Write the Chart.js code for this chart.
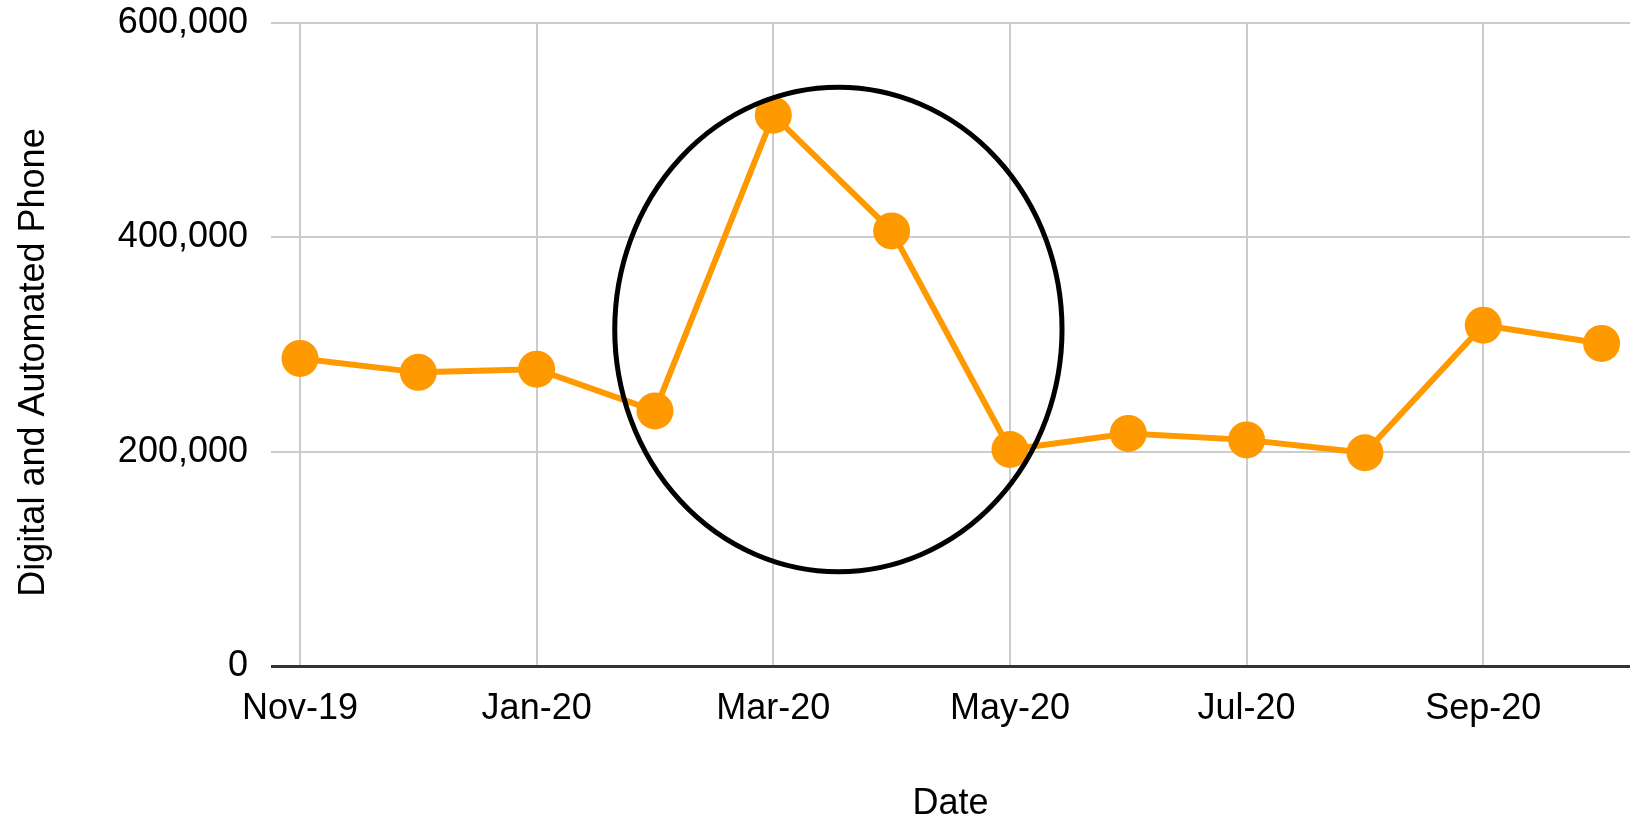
<!DOCTYPE html>
<html>
<head>
<meta charset="utf-8">
<script src="https://cdn.jsdelivr.net/npm/chart.js@4/dist/chart.umd.min.js"></script>
<style>
  html, body { margin: 0; padding: 0; background: #ffffff; overflow: hidden; }
  #wrap { position: relative; width: 1630px; height: 822px; }
  #phone-chart { display: block; }
</style>
</head>
<body>
<div id="wrap"><canvas id="phone-chart"></canvas></div>
<script>
// Months shown on the chart (one point each)
const months = ['Nov-19', 'Dec-19', 'Jan-20', 'Feb-20', 'Mar-20', 'Apr-20',
                'May-20', 'Jun-20', 'Jul-20', 'Aug-20', 'Sep-20', 'Oct-20'];

// Digital and automated phone volume per month
const phoneValues = [287000, 274000, 277000, 238000, 514000, 406000,
                     202000, 217000, 211000, 199000, 318000, 301000];

// Only every other month gets a label and a vertical grid line
const labelledMonths = [0, 2, 4, 6, 8, 10];

// Y axis ticks
const yTicks = [0, 200000, 400000, 600000];

// Axis titles
const xTitle = 'Date';
const yTitle = 'Digital and Automated Phone';

// Highlight ellipse around the spike, in data units (month index / value)
const highlightCenter = { month: 4.55, value: 314000 };
const highlightRadius = { months: 1.89, value: 226000 };

const ORANGE = '#ff9900';
const FONT = 'Liberation Sans, Arial, sans-serif';

// Plugin that draws the black ellipse on top of the line
const highlightPlugin = {
  id: 'highlight',
  afterDatasetsDraw(chart) {
    const ctx = chart.ctx;
    const x = chart.scales.x;
    const y = chart.scales.y;
    const cx = x.getPixelForValue(highlightCenter.month);
    const cy = y.getPixelForValue(highlightCenter.value);
    const rx = Math.abs(x.getPixelForValue(highlightCenter.month + highlightRadius.months) - cx);
    const ry = Math.abs(y.getPixelForValue(highlightCenter.value + highlightRadius.value) - cy);
    ctx.save();
    ctx.beginPath();
    ctx.ellipse(cx, cy, rx, ry, 0, 0, Math.PI * 2);
    ctx.lineWidth = 5;
    ctx.strokeStyle = '#000000';
    ctx.stroke();
    ctx.restore();
  }
};

// The y title sits a bit lower than the middle of the plot, so draw it here
const yTitlePlugin = {
  id: 'yTitle',
  afterDraw(chart) {
    const ctx = chart.ctx;
    const area = chart.chartArea;
    ctx.save();
    ctx.translate(34, (area.top + area.bottom) / 2 + 18);
    ctx.rotate(-Math.PI / 2);
    ctx.font = '36px ' + FONT;
    ctx.fillStyle = '#000000';
    ctx.textAlign = 'center';
    ctx.textBaseline = 'middle';
    ctx.fillText(yTitle, 0, 0);
    ctx.restore();
  }
};

const chartCanvas = document.getElementById('phone-chart');

const chart = new Chart(chartCanvas, {
  type: 'line',
  data: {
    datasets: [
      {
        label: yTitle,
        data: phoneValues.map((v, i) => ({ x: i, y: v })),
        borderColor: ORANGE,
        backgroundColor: ORANGE,
        borderWidth: 6,
        pointRadius: 18.5,
        pointHoverRadius: 18.5,
        pointBorderWidth: 0,
        pointBackgroundColor: ORANGE,
        fill: false,
        tension: 0,
        clip: false
      }
    ]
  },
  options: {
    responsive: true,
    maintainAspectRatio: false,
    animation: false,
    layout: { padding: 0, autoPadding: false },
    plugins: {
      legend: { display: false },
      tooltip: { enabled: false }
    },
    scales: {
      x: {
        type: 'linear',
        min: -0.245,
        max: 11.24,
        afterBuildTicks: (scale) => {
          scale.ticks = labelledMonths.map(v => ({ value: v }));
        },
        afterFit: (scale) => {
          scale.height = 156;
          scale.paddingLeft = 0;
          scale.paddingRight = 0;
        },
        border: { display: false },
        grid: {
          color: '#cccccc',
          lineWidth: 2,
          drawTicks: false
        },
        ticks: {
          autoSkip: false,
          maxRotation: 0,
          padding: 21,
          color: '#000000',
          font: { family: FONT, size: 36 },
          callback: (value) => months[value]
        },
        title: {
          display: true,
          text: xTitle,
          color: '#000000',
          font: { family: FONT, size: 36 },
          padding: { top: 0, bottom: -4 }
        }
      },
      y: {
        min: 0,
        max: 600000,
        afterBuildTicks: (scale) => {
          scale.ticks = yTicks.map(v => ({ value: v }));
        },
        afterFit: (scale) => {
          scale.width = 271;
          scale.paddingTop = 23;
          scale.paddingBottom = 0;
        },
        border: { display: false },
        grid: {
          color: (c) => (c.tick && c.tick.value === 0 ? '#333333' : '#cccccc'),
          lineWidth: (c) => (c.tick && c.tick.value === 0 ? 3 : 2),
          drawTicks: false
        },
        ticks: {
          padding: 23,
          color: '#000000',
          font: { family: FONT, size: 36 },
          callback: (value) => value.toLocaleString('en-US')
        },
        title: { display: false }
      }
    }
  },
  plugins: [highlightPlugin, yTitlePlugin]
});
</script>
</body>
</html>
